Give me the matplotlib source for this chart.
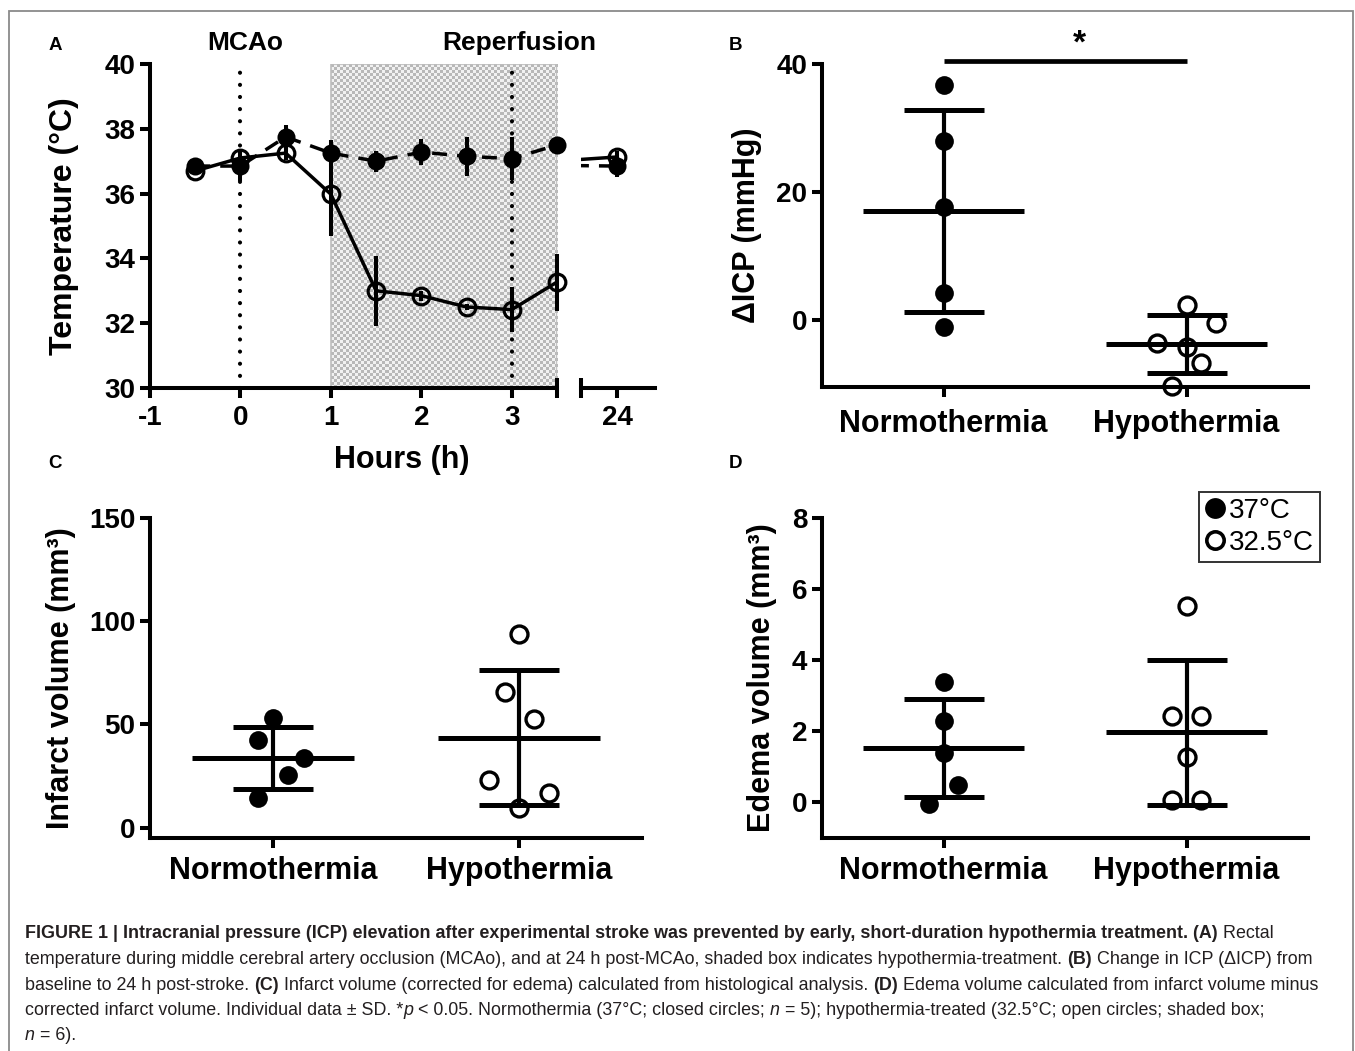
import numpy as np
import matplotlib
matplotlib.use('Agg')
import matplotlib.pyplot as plt
from matplotlib.lines import Line2D
from matplotlib.patches import Rectangle

# ------------------------- data -------------------------
time_h = [-0.5, 0, 0.5, 1, 1.5, 2, 2.5, 3, 3.5, 24]
normo_temp = [36.85, 36.85, 37.75, 37.25, 37.0, 37.28, 37.15, 37.08, 37.5, 36.85]
normo_temp_sd = [0.1, 0.45, 0.37, 0.4, 0.33, 0.4, 0.6, 0.67, 0.12, 0.35]
hypo_temp = [36.7, 37.1, 37.25, 35.98, 33.0, 32.85, 32.5, 32.42, 33.27, 37.13]
hypo_temp_sd = [0.1, 0.2, 0.2, 1.3, 1.08, 0.15, 0.1, 0.7, 0.88, 0.2]
treat_start, treat_end = 1, 3.5
event_times = [0, 3]
event_labels = ['MCAo', 'Reperfusion']

groups = ['Normothermia', 'Hypothermia']

normo_icp = [36.7, 28.0, 17.7, 4.2, -1.1]
hypo_icp = [2.3, -0.5, -3.6, -4.2, -6.7, -10.3]
icp_mean = [17.0, -3.75]
icp_sd = [15.8, 4.55]

normo_infarct = [53.1, 42.5, 33.8, 25.6, 14.5]
hypo_infarct = [93.7, 65.8, 52.6, 23.2, 16.7, 9.7]
infarct_mean = [33.8, 43.6]
infarct_sd = [15.0, 32.8]

normo_edema = [3.4, 2.3, 1.4, 0.5, -0.03]
hypo_edema = [5.53, 2.42, 2.42, 1.29, 0.08, 0.08]
edema_mean = [1.52, 1.97]
edema_sd = [1.38, 2.03]

# horizontal jitter of the scatter points (category units)
normo_icp_jit = [0, 0, 0, 0, 0]
hypo_icp_jit = [0, 0.12, -0.12, 0, 0.06, -0.06]
normo_inf_jit = [0, -0.06, 0.125, 0.06, -0.06]
hypo_inf_jit = [0, -0.057, 0.06, -0.12, 0.12, 0]
normo_ede_jit = [0, 0, 0, 0.058, -0.058]
hypo_ede_jit = [0, -0.058, 0.058, 0, -0.058, 0.058]

legend_labels = ['37°C', '32.5°C']

# ------------------------- style -------------------------
plt.rcParams['font.family'] = ['Liberation Sans', 'DejaVu Sans']
W, H = 1355, 1051
DPI = 100
fig = plt.figure(figsize=(W / DPI, H / DPI), dpi=DPI)

SPW = 2.9      # spine width (pt)
TKL = 7.0      # tick length
LW = 2.5


def px_axes(x0, y0, x1, y1):
    return fig.add_axes([x0 / W, 1 - y1 / H, (x1 - x0) / W, (y1 - y0) / H])


def style_axes(ax, left=True):
    for s in ['top', 'right']:
        ax.spines[s].set_visible(False)
    for s in ['left', 'bottom']:
        ax.spines[s].set_linewidth(SPW)
        ax.spines[s].set_capstyle('projecting')
    if not left:
        ax.spines['left'].set_visible(False)
    ax.tick_params(direction='out', length=TKL, width=SPW, labelsize=20)


# ------------------------- panel A -------------------------
axA = px_axes(150, 64, 557, 388)
axR = px_axes(581, 64, 655, 388)
t = np.array(time_h)
left_mask = t <= treat_end
right_mask = t >= 20

for ax, mask in [(axA, left_mask), (axR, right_mask)]:
    ax.plot(time_h, normo_temp, color='k', lw=LW, ls=(0, (4.3, 2.9)), zorder=3)
    ax.plot(time_h, hypo_temp, color='k', lw=LW, ls='-', zorder=3)
    ax.errorbar(t[mask], np.array(normo_temp)[mask], yerr=np.array(normo_temp_sd)[mask],
                fmt='o', color='k', ms=13, mew=0, elinewidth=LW + 0.4, capsize=0,
                zorder=4, clip_on=False)
    ax.errorbar(t[mask], np.array(hypo_temp)[mask], yerr=np.array(hypo_temp_sd)[mask],
                fmt='o', color='k', mfc='none', ms=12, mew=2.3, elinewidth=LW + 0.4,
                capsize=0, zorder=5, clip_on=False)
    ax.set_ylim(30, 40)

axR.set_xlim(24 - 36 / 90, 24 + 38 / 90)

# shaded (checkered) treatment box
ii, jj = np.indices((108, 75))
checker = ((ii + jj) % 2).astype(float)
axA.imshow(checker, cmap='gray', vmin=-3.2, vmax=1.25, extent=[treat_start, treat_end, 30, 40],
           aspect='auto', interpolation='nearest', zorder=0)
axA.add_patch(Rectangle((treat_start, 30), treat_end - treat_start, 10, fc='none',
                        ec='#bdbdbd', lw=1.2, zorder=1))
axA.set_xlim(-1, 3.5)
axA.set_ylim(30, 40)

for et in event_times:
    axA.axvline(et, color='k', lw=3.0, ls=(0, (0.01, 2.9)), dash_capstyle='round', zorder=2)

style_axes(axA)
style_axes(axR, left=False)
axA.set_xticks([-1, 0, 1, 2, 3])
axA.set_xticklabels(['-1', '0', '1', '2', '3'])
axA.set_yticks([30, 32, 34, 36, 38, 40])
axA.tick_params(axis='x', pad=5)
axA.tick_params(axis='y', pad=3.5)
axR.set_xticks([24])
axR.set_xticklabels(['24'])
axR.set_yticks([])
axR.tick_params(axis='x', pad=5)
for lab in axA.get_xticklabels() + axA.get_yticklabels() + axR.get_xticklabels():
    lab.set_fontweight('bold')
# break bars
axA.plot([1, 1], [-0.031, 0.031], transform=axA.transAxes, color='k', lw=SPW,
         clip_on=False, solid_capstyle='butt')
axR.plot([0, 0], [-0.031, 0.031], transform=axR.transAxes, color='k', lw=SPW,
         clip_on=False, solid_capstyle='butt')

axA.set_ylabel('Temperature (°C)', fontsize=23, fontweight='bold')
axA.yaxis.set_label_coords(-0.175, 0.5)
fig.text(402 / W, 1 - 460 / H, 'Hours (h)', fontsize=22, fontweight='bold',
         ha='center', va='center')
for et, lab in zip(event_times, event_labels):
    xdisp = axA.transData.transform((et, 40))[0]
    fig.text(xdisp / W + (5 / W if lab == 'MCAo' else 7 / W), 1 - 43 / H, lab,
             fontsize=19, fontweight='bold', ha='center', va='center')


# ------------------------- scatter panels -------------------------
def scatter_panel(ax, normo, hypo, nj, hj, means, sds, ylim, yticks, ylabel, lab_x):
    ax.set_xlim(-0.5, 1.5)
    ax.set_ylim(*ylim)
    ax.plot(np.array(nj) + 0, normo, 'o', color='k', ms=13.5, mew=0, zorder=4, clip_on=False)
    ax.plot(np.array(hj) + 1, hypo, 'o', color='k', mfc='none', ms=12.2, mew=2.4,
            zorder=4, clip_on=False)
    ax.hlines(means, np.arange(2) - 0.33, np.arange(2) + 0.33, color='k', lw=3.6, zorder=3)
    ax.errorbar(np.arange(2), means, yerr=sds, fmt='none', ecolor='k', elinewidth=3.0,
                capsize=28.8, capthick=3.6, zorder=3)
    style_axes(ax)
    ax.set_xticks([0, 1])
    ax.set_xticklabels(groups, fontsize=22, fontweight='bold')
    ax.set_yticks(yticks)
    ax.set_yticklabels([str(v) for v in yticks], fontsize=20, fontweight='bold')
    ax.tick_params(axis='y', pad=3.5)
    ax.set_ylabel(ylabel, fontsize=22, fontweight='bold')
    ax.yaxis.set_label_coords(lab_x, 0.5)


axB = px_axes(822, 64, 1308, 387)
scatter_panel(axB, normo_icp, hypo_icp, normo_icp_jit, hypo_icp_jit, icp_mean, icp_sd,
              (-10.5, 40), [0, 20, 40], 'ΔICP (mmHg)', -0.124)
axB.tick_params(axis='x', pad=9)
axB.plot([0, 1], [40.5, 40.5], color='k', lw=3.4, clip_on=False, solid_capstyle='butt')
axB.text(0.56, 40.7, '*', fontsize=24, fontweight='bold', ha='center', va='bottom')

axC = px_axes(150, 518, 642, 838)
scatter_panel(axC, normo_infarct, hypo_infarct, normo_inf_jit, hypo_inf_jit, infarct_mean,
              infarct_sd, (-5, 150), [0, 50, 100, 150], 'Infarct volume (mm³)', -0.15)
axC.tick_params(axis='x', pad=6)

axD = px_axes(822, 518, 1308, 838)
scatter_panel(axD, normo_edema, hypo_edema, normo_ede_jit, hypo_ede_jit, edema_mean,
              edema_sd, (-1, 8), [0, 2, 4, 6, 8], 'Edema volume (mm³)', -0.093)
axD.tick_params(axis='x', pad=6)

handles = [Line2D([], [], ls='none', marker='o', color='k', ms=15, mew=0),
           Line2D([], [], ls='none', marker='o', color='k', mfc='none', ms=12.5, mew=2.6)]
leg = fig.legend(handles, legend_labels, loc='upper right',
                 bbox_to_anchor=(1320 / W, 1 - 492 / H), fontsize=20,
                 frameon=True, fancybox=False, edgecolor='k',
                 handlelength=0.75, handletextpad=0.12, borderpad=0.22,
                 labelspacing=0.2, borderaxespad=0)
leg.get_frame().set_linewidth(1.4)

# ------------------------- panel letters -------------------------
for lab, (px, py) in zip('ABCD', [(55, 45), (735, 45), (55, 463), (735, 463)]):
    fig.text(px / W, 1 - py / H, lab, fontsize=13.5, fontweight='bold', ha='center', va='center')

# ------------------------- frame -------------------------
fig.add_artist(Rectangle((9 / W, -0.02), (1353 - 9) / W, 1 - 11 / H + 0.02,
                         transform=fig.transFigure, fc='none', ec='#8a8a8a', lw=1.3))

# ------------------------- caption -------------------------
cap_lines = [
    [('FIGURE 1 | Intracranial pressure (ICP) elevation after experimental stroke was prevented by early, short-duration hypothermia treatment. (A)', 'b'),
     (' Rectal', 'r')],
    [('temperature during middle cerebral artery occlusion (MCAo), and at 24 h post-MCAo, shaded box indicates hypothermia-treatment. ', 'r'),
     ('(B)', 'b'), (' Change in ICP (ΔICP) from', 'r')],
    [('baseline to 24 h post-stroke. ', 'r'), ('(C)', 'b'),
     (' Infarct volume (corrected for edema) calculated from histological analysis. ', 'r'),
     ('(D)', 'b'), (' Edema volume calculated from infarct volume minus', 'r')],
    [('corrected infarct volume. Individual data ± SD. *', 'r'), ('p', 'i'),
     (' < 0.05. Normothermia (37°C; closed circles; ', 'r'), ('n', 'i'),
     (' = 5); hypothermia-treated (32.5°C; open circles; shaded box;', 'r')],
    [('n', 'i'), (' = 6).', 'r')],
]
line_targets = [1315, 1325, 1326, 1293, None]
cap_color = '#231f20'
renderer = fig.canvas.get_renderer()


def kw_for(style, fs):
    kw = dict(fontsize=fs, color=cap_color)
    if style == 'b':
        kw['fontweight'] = 'bold'
    if style == 'i':
        kw['fontstyle'] = 'italic'
    return kw


def seg_width(s, style, fs):
    kw = kw_for(style, fs)
    t1 = fig.text(0, 0, '|' + s + '|', **kw)
    t2 = fig.text(0, 0, '||', **kw)
    w = t1.get_window_extent(renderer).width - t2.get_window_extent(renderer).width
    t1.remove()
    t2.remove()
    return w


base_fs = 12.0
x0_cap = 25.0
ratios = []
for line, tgt in zip(cap_lines, line_targets):
    if tgt is None:
        continue
    w = sum(seg_width(s, st, base_fs) for s, st in line)
    ratios.append((tgt - x0_cap) / w)
cap_fs = base_fs * min(ratios)
baselines = [938, 964, 990, 1015, 1040]
for line, yb in zip(cap_lines, baselines):
    x = x0_cap
    for s, st in line:
        fig.text(x / W, 1 - yb / H, s, va='baseline', ha='left', **kw_for(st, cap_fs))
        x += seg_width(s, st, cap_fs)

fig.savefig('out.png', dpi=DPI)
